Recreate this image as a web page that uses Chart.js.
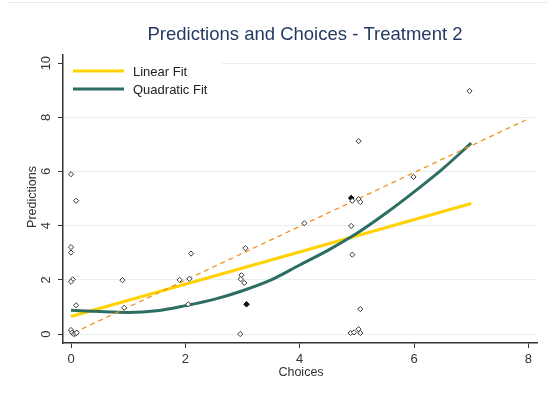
<!DOCTYPE html>
<html><head><meta charset="utf-8">
<script src="https://cdn.jsdelivr.net/npm/chart.js@4.4.0/dist/chart.umd.min.js"></script>
<style>html,body{margin:0;padding:0;background:#fff;}#wrap{width:547px;height:398px;position:relative}</style>
</head><body><div id="wrap"><canvas id="c" width="547" height="398"></canvas></div>
<script>
const chartTitle = "Predictions and Choices - Treatment 2";
const xTitle = "Choices";
const yTitle = "Predictions";
const legendLabels = ["Linear Fit", "Quadratic Fit"];
const xTicks = [0, 2, 4, 6, 8];
const yTicks = [0, 2, 4, 6, 8, 10];

const choices = [0, 0.09, 0, 0, 0.03, 0, 0.09, 0, 0.02, 0.05, 0.08, 0.1,
  0.9, 0.93, 1.9, 2.07, 2.1, 2.05,
  3.05, 2.98, 2.97, 3.03, 2.96,
  4.08, 5.03, 4.92, 5.03, 5.06, 4.9, 4.92, 5.06, 4.89, 4.95, 5.03, 5.06,
  5.99, 6.97];
const predictions = [5.9, 4.92, 3.21, 3.01, 2.02, 1.93, 1.06, 0.15, 0.05, 0, 0.02, 0.05,
  1.99, 0.97, 2.0, 2.04, 2.97, 1.1,
  3.17, 2.17, 2.03, 1.89, 0,
  4.09, 7.12, 4.92, 4.98, 4.87, 3.99, 2.93, 0.92, 0.04, 0.06, 0.18, 0.04,
  5.8, 8.97];
// locations where several observations coincide (drawn as solid markers)
const overlapChoices = [3.07, 4.9];
const overlapPredictions = [1.1, 5.02];

const linearX = [0, 7];
const linearY = [0.65, 4.82];
const quadX = [0, 0.5, 1, 1.5, 2, 2.5, 3, 3.5, 4, 4.5, 5, 5.5, 6, 6.5, 7];
const quadY = [0.88, 0.83, 0.80, 0.86, 1.05, 1.28, 1.6, 2.0, 2.55, 3.1, 3.72, 4.45, 5.25, 6.1, 7.05];
const diagX = [0.05, 7.95];
const diagY = [0.05, 7.9];

const pts = (xs, ys) => xs.map((x, i) => ({x: x, y: ys[i]}));

const FONT = '"Liberation Sans", Arial, sans-serif';
const YELLOW = '#ffd200';
const TEAL = '#2d6e62';
const ORANGE = '#f0921e';

const drawPlugin = {
  id: 'stataDecor',
  beforeDraw(chart) {
    const ctx = chart.ctx;
    ctx.save();
    ctx.fillStyle = '#fff';
    ctx.fillRect(0, 0, chart.width, chart.height);
    ctx.strokeStyle = '#e6eced';
    ctx.lineWidth = 1;
    ctx.beginPath(); ctx.moveTo(8, 2.5); ctx.lineTo(547, 2.5); ctx.stroke();
    ctx.restore();
  },
  afterDatasetsDraw(chart) {
    const ctx = chart.ctx;
    ctx.save();
    // legend box
    ctx.fillStyle = '#fff';
    ctx.fillRect(64, 56, 158, 46);
    const cols = [YELLOW, TEAL];
    const ys = [71, 89];
    ctx.font = '13px ' + FONT;
    ctx.textBaseline = 'middle';
    ctx.textAlign = 'left';
    for (let i = 0; i < 2; i++) {
      ctx.strokeStyle = cols[i];
      ctx.lineWidth = 3;
      ctx.beginPath(); ctx.moveTo(73, ys[i]); ctx.lineTo(124, ys[i]); ctx.stroke();
      ctx.fillStyle = '#222';
      ctx.fillText(legendLabels[i], 133, ys[i] + 1);
    }
    ctx.restore();
  },
  afterDraw(chart) {
    const ctx = chart.ctx;
    const ys = chart.scales.y;
    ctx.save();
    // title
    ctx.fillStyle = '#253a62';
    ctx.font = '18.5px ' + FONT;
    ctx.textAlign = 'center';
    ctx.textBaseline = 'middle';
    ctx.fillText(chartTitle, 305, 35);
    // x title
    ctx.fillStyle = '#333';
    ctx.font = '12.5px ' + FONT;
    ctx.fillText(xTitle, 301, 373);
    // y tick labels rotated
    ctx.font = '13px ' + FONT;
    yTicks.forEach(v => {
      const py = ys.getPixelForValue(v);
      ctx.save();
      ctx.translate(46, py);
      ctx.rotate(-Math.PI / 2);
      ctx.fillText(String(v), 0, 0);
      ctx.restore();
    });
    // y title
    ctx.font = '12.5px ' + FONT;
    ctx.save();
    ctx.translate(33, 197);
    ctx.rotate(-Math.PI / 2);
    ctx.fillText(yTitle, 0, 0);
    ctx.restore();
    ctx.restore();
  }
};

new Chart(document.getElementById('c'), {
  type: 'scatter',
  data: {
    datasets: [
      {label: 'obs', data: pts(choices, predictions), pointStyle: 'rectRot', pointRadius: 2.6,
       borderWidth: 1, borderColor: '#3a3a3a', backgroundColor: '#fff', showLine: false, order: 0},
      {label: 'overlap', data: pts(overlapChoices, overlapPredictions), pointStyle: 'rectRot', pointRadius: 2.8,
       borderWidth: 1, borderColor: '#111', backgroundColor: '#111', showLine: false, order: 0},
      {label: 'diag', data: pts(diagX, diagY), showLine: true, pointRadius: 0, borderColor: ORANGE,
       borderWidth: 1.3, borderDash: [5, 4], order: 1},
      {label: legendLabels[1], data: pts(quadX, quadY), showLine: true, pointRadius: 0, borderColor: TEAL,
       borderWidth: 3, cubicInterpolationMode: 'monotone', order: 2},
      {label: legendLabels[0], data: pts(linearX, linearY), showLine: true, pointRadius: 0, borderColor: YELLOW,
       borderWidth: 3, order: 3}
    ]
  },
  options: {
    responsive: false,
    devicePixelRatio: 1,
    animation: false,
    layout: {padding: {top: 55, right: 10, left: 0, bottom: 0}},
    plugins: {legend: {display: false}, title: {display: false}, tooltip: {enabled: false}},
    scales: {
      x: {
        type: 'linear', min: -0.14, max: 8.15,
        afterBuildTicks: s => { s.ticks = xTicks.map(v => ({value: v})); },
        afterFit: s => { s.height = 55; },
        grid: {drawOnChartArea: false, drawTicks: true, tickLength: 5, tickColor: '#333', tickWidth: 1},
        border: {display: true, color: '#333', width: 1.5},
        ticks: {color: '#333', font: {family: FONT, size: 13}, padding: 4, maxRotation: 0}
      },
      y: {
        type: 'linear', min: -0.33, max: 10.3,
        afterBuildTicks: s => { s.ticks = yTicks.map(v => ({value: v})); },
        afterFit: s => { s.width = 63; },
        grid: {color: '#e8eff1', lineWidth: 1, drawTicks: true, tickLength: 5, tickColor: '#333', tickWidth: 1},
        border: {display: true, color: '#333', width: 1.5},
        ticks: {display: false}
      }
    }
  },
  plugins: [drawPlugin]
});
</script>
</body></html>
